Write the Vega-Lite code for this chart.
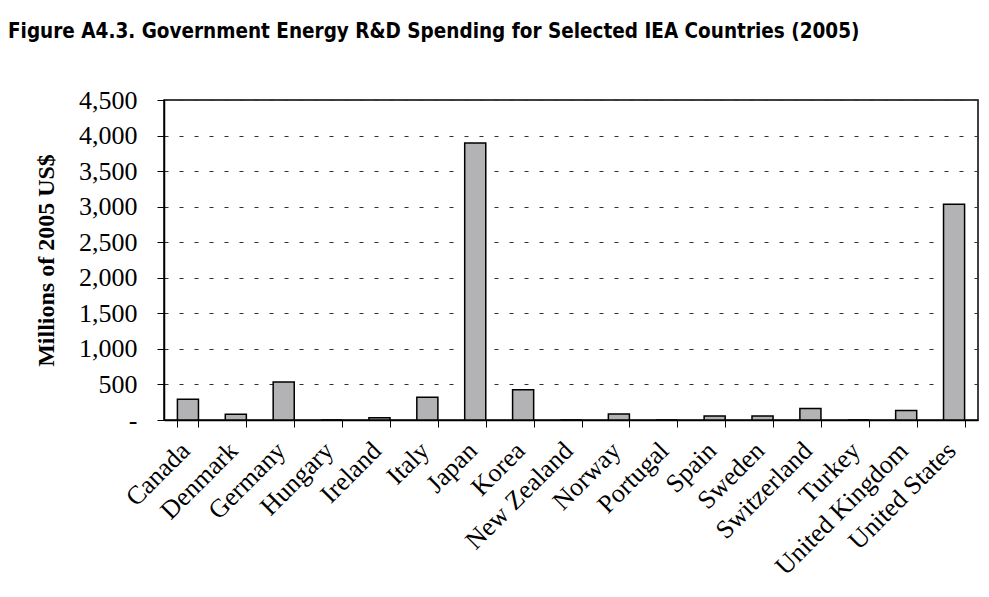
{
  "$schema": "https://vega.github.io/schema/vega-lite/v6.json",
  "autosize": {"type": "none"},
  "width": 814,
  "height": 320,
  "padding": {"left": 164, "top": 100, "right": 11, "bottom": 177},
  "background": "white",
  "title": {
    "text": "Figure A4.3.  Government Energy R&D Spending for Selected IEA Countries (2005)",
    "anchor": "start",
    "frame": "group",
    "dx": -156,
    "offset": 45,
    "font": "DejaVu Sans Condensed",
    "fontSize": 20.5,
    "fontWeight": "bold",
    "color": "black"
  },
  "data": {
    "values": [
      {"country": "Canada", "spend": 292},
      {"country": "Denmark", "spend": 82},
      {"country": "Germany", "spend": 534},
      {"country": "Hungary", "spend": 0},
      {"country": "Ireland", "spend": 30},
      {"country": "Italy", "spend": 321},
      {"country": "Japan", "spend": 3895},
      {"country": "Korea", "spend": 425},
      {"country": "New Zealand", "spend": 0},
      {"country": "Norway", "spend": 84},
      {"country": "Portugal", "spend": 0},
      {"country": "Spain", "spend": 57},
      {"country": "Sweden", "spend": 57},
      {"country": "Switzerland", "spend": 160},
      {"country": "Turkey", "spend": 0},
      {"country": "United Kingdom", "spend": 132},
      {"country": "United States", "spend": 3035}
    ]
  },
  "mark": {"type": "bar", "fill": "#b3b3b5", "stroke": "black", "strokeWidth": 1.5},
  "encoding": {
    "x": {
      "field": "country",
      "type": "nominal",
      "sort": null,
      "scale": {"paddingInner": 0.56, "paddingOuter": 0.28},
      "axis": {
        "title": null,
        "labelAngle": -45,
        "labelFont": "Liberation Serif",
        "labelFontSize": 26,
        "labelColor": "black",
        "labelPadding": 10,
        "labelOffset": -12,
        "labelLimit": 0,
        "labelOverlap": false,
        "tickBand": "extent",
        "tickSize": 7,
        "tickColor": "black",
        "domainColor": "black",
        "domainWidth": 1.5,
        "grid": false
      }
    },
    "y": {
      "field": "spend",
      "type": "quantitative",
      "scale": {"domain": [0, 4500], "nice": false},
      "axis": {
        "title": "Millions of 2005 US$",
        "titleFont": "Liberation Serif",
        "titleFontSize": 24,
        "titleFontWeight": "bold",
        "titleColor": "black",
        "titlePadding": 20,
        "values": [0, 500, 1000, 1500, 2000, 2500, 3000, 3500, 4000, 4500],
        "labelExpr": "datum.value == 0 ? '-' : format(datum.value, ',')",
        "labelFont": "Liberation Serif",
        "labelFontSize": 26,
        "labelColor": "black",
        "labelPadding": 20,
        "tickSize": 7,
        "tickColor": "black",
        "domainColor": "black",
        "domainWidth": 1.5,
        "grid": true,
        "gridColor": "#333333",
        "gridDash": [4, 11],
        "gridWidth": 1
      }
    }
  },
  "config": {
    "view": {"stroke": "black", "strokeWidth": 1.5}
  }
}
